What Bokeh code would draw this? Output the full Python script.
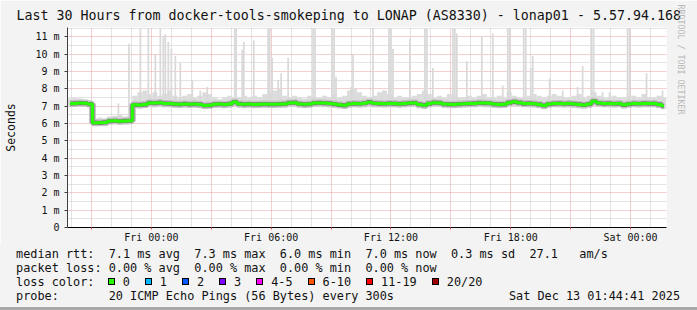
import numpy as np
from bokeh.plotting import figure
from bokeh.layouts import column
from bokeh.models import FixedTicker, Range1d, Title, Div
from bokeh.embed import file_html
from bokeh.resources import INLINE

# ---------------- data ----------------
TITLE = "Last 30 Hours from docker-tools-smokeping to LONAP (AS8330) - lonap01 - 5.57.94.168"
Y_LABEL = "Seconds"
# time axis: hours since Thu 19:48 (graph covers 30 h)
tick_hours = [1.2, 4.2, 7.2, 10.2, 13.2, 16.2, 19.2, 22.2, 25.2, 28.2]
tick_text = ["", "Fri 00:00", "", "Fri 06:00", "", "Fri 12:00", "", "Fri 18:00", "", "Sat 00:00"]
minor_hours = [0.2, 2.2, 3.2, 5.2, 6.2, 8.2, 9.2, 11.2, 12.2, 14.2, 15.2, 17.2, 18.2,
               20.2, 21.2, 23.2, 24.2, 26.2, 27.2, 29.2]
y_ticks = [0, 1, 2, 3, 4, 5, 6, 7, 8, 9, 10, 11]
y_text = ["0", "1 m", "2 m", "3 m", "4 m", "5 m", "6 m", "7 m", "8 m", "9 m", "10 m", "11 m"]

# median rtt (ms), 15-minute bins
median_ms = [
    7.15, 7.16, 7.18, 7.17, 7.12, 6.05, 6.04, 6.06, 6.14, 6.16,
    6.13, 6.15, 6.16, 7.08, 7.07, 7.09, 7.19, 7.18, 7.20, 7.16,
    7.15, 7.12, 7.11, 7.13, 7.11, 7.12, 7.10, 7.04, 7.05, 7.11,
    7.12, 7.10, 7.13, 7.24, 7.13, 7.11, 7.12, 7.10, 7.11, 7.12,
    7.11, 7.11, 7.12, 7.13, 7.19, 7.20, 7.13, 7.11, 7.12, 7.18,
    7.19, 7.18, 7.16, 7.12, 7.08, 7.05, 7.13, 7.15, 7.14, 7.17,
    7.23, 7.17, 7.15, 7.14, 7.16, 7.15, 7.13, 7.15, 7.18, 7.19,
    7.10, 7.06, 7.15, 7.20, 7.19, 7.12, 7.11, 7.10, 7.12, 7.14,
    7.15, 7.16, 7.19, 7.18, 7.17, 7.12, 7.10, 7.11, 7.20, 7.25,
    7.20, 7.15, 7.16, 7.14, 7.10, 7.04, 7.12, 7.15, 7.16, 7.14,
    7.15, 7.13, 7.10, 7.07, 7.12, 7.28, 7.18, 7.15, 7.16, 7.14,
    7.15, 7.08, 7.12, 7.15, 7.14, 7.16, 7.15, 7.15, 7.10, 7.02]

# smoke body (lowest / highest of the bulk of the pings), 15-minute bins
smoke_lo = [
    6.95, 6.95, 6.96, 6.95, 6.93, 5.92, 5.91, 5.93, 5.95, 5.96,
    5.94, 5.95, 5.96, 6.88, 6.87, 6.90, 6.95, 6.93, 6.95, 6.92,
    6.92, 6.90, 6.89, 6.91, 6.90, 6.90, 6.88, 6.84, 6.85, 6.90,
    6.90, 6.88, 6.90, 6.98, 6.90, 6.88, 6.90, 6.88, 6.89, 6.90,
    6.89, 6.89, 6.90, 6.90, 6.96, 6.96, 6.90, 6.88, 6.90, 6.95,
    6.95, 6.94, 6.92, 6.90, 6.86, 6.84, 6.90, 6.92, 6.91, 6.93,
    6.98, 6.93, 6.92, 6.91, 6.93, 6.92, 6.90, 6.92, 6.94, 6.95,
    6.88, 6.84, 6.92, 6.96, 6.95, 6.90, 6.88, 6.88, 6.90, 6.91,
    6.92, 6.93, 6.95, 6.94, 6.93, 6.90, 6.88, 6.89, 6.96, 7.00,
    6.96, 6.92, 6.93, 6.91, 6.88, 6.83, 6.90, 6.92, 6.93, 6.91,
    6.92, 6.90, 6.87, 6.85, 6.90, 7.02, 6.95, 6.92, 6.93, 6.91,
    6.92, 6.86, 6.90, 6.92, 6.91, 6.93, 6.92, 6.92, 6.88, 6.82]
smoke_hi = [
    7.45, 7.50, 7.45, 7.40, 7.35, 6.30, 6.35, 6.30, 6.40, 6.45,
    6.50, 6.40, 6.50, 7.60, 7.80, 7.90, 7.70, 7.80, 7.60, 7.70,
    7.90, 7.60, 7.50, 7.60, 7.70, 7.50, 7.60, 7.80, 7.70, 7.50,
    7.40, 7.50, 7.60, 7.50, 7.50, 7.60, 7.50, 7.60, 7.50, 7.70,
    7.80, 7.90, 8.00, 7.60, 7.50, 7.60, 7.50, 7.45, 7.60, 7.50,
    7.50, 7.60, 7.50, 7.70, 7.50, 7.60, 7.90, 8.00, 7.80, 7.60,
    7.50, 7.60, 7.80, 7.90, 7.70, 7.50, 7.60, 7.50, 7.50, 7.60,
    7.70, 7.90, 7.70, 7.50, 7.60, 7.50, 7.70, 7.60, 7.50, 7.50,
    7.60, 7.50, 7.60, 7.70, 7.50, 7.50, 7.60, 7.50, 7.80, 7.60,
    7.50, 7.50, 7.60, 7.70, 7.60, 7.50, 7.60, 7.70, 7.60, 7.50,
    7.50, 7.60, 7.70, 7.50, 7.60, 7.80, 7.60, 7.50, 7.50, 7.60,
    7.50, 7.50, 7.60, 7.60, 7.50, 7.70, 7.50, 7.50, 7.60, 7.50]

# slowest ping of single 5-minute rounds that stick out of the smoke
spike_hours = [2.55, 3.08, 3.65, 4.05, 4.40, 4.65, 4.80, 4.90, 5.05, 5.20, 5.40, 5.65,
               6.25, 6.65, 7.00, 8.38, 8.45, 8.75, 8.83, 9.33, 10.05, 10.13, 10.25,
               10.55, 10.70, 11.05, 12.30, 12.40, 13.25, 13.35, 13.45, 14.20, 14.30,
               15.30, 16.10, 16.20, 16.30, 17.15, 17.90, 18.00, 18.30, 19.30, 19.40,
               19.50, 20.00, 20.75, 21.30, 21.80, 22.05, 22.15, 22.85, 22.95, 23.20,
               23.30, 24.15, 24.80, 25.55, 25.80, 26.25, 26.35, 26.80, 27.15, 28.05,
               28.15, 29.00, 29.80]
spike_ms = [7.15, 10.6, 11.5, 11.5, 10.0, 11.5, 11.0, 11.15, 10.7, 10.3, 9.9, 9.5,
            8.5, 7.9, 8.1, 11.5, 11.5, 10.25, 10.7, 10.8, 11.5, 11.5, 9.8,
            8.5, 8.9, 9.8, 11.5, 11.5, 11.5, 11.5, 8.7, 8.1, 10.0,
            11.5, 11.5, 11.5, 10.3, 10.9, 11.5, 11.5, 9.2, 11.5, 11.5,
            11.2, 9.6, 11.05, 11.2, 8.2, 11.5, 11.5, 11.5, 11.5, 9.2,
            9.9, 8.6, 7.9, 8.1, 9.3, 11.5, 11.5, 7.8, 7.8, 11.5,
            11.5, 8.9, 7.9]

rtt_row = "median rtt:  7.1 ms avg  7.3 ms max  6.0 ms min  7.0 ms now  0.3 ms sd  27.1   am/s"
loss_row = "packet loss: 0.00 % avg  0.00 % max  0.00 % min  0.00 % now"
color_name = "loss color:"
loss_labels = ["0", "1", "2", "3", "4-5", "6-10", "11-19", "20/20"]
loss_colors = ["#26ff00", "#00b8ff", "#0059ff", "#7e00ff", "#ff00ff", "#ff5500", "#ff0000", "#a10000"]
probe_row = "probe:       20 ICMP Echo Pings (56 Bytes) every 300s"
stamp_text = "Sat Dec 13 01:44:41 2025"

# ---------------- layout constants ----------------
W = 697
H1, H2 = 245, 65                  # graph part / legend part
FL, FT, FB, FR = 67, 27, 16, 30
MONO = "DejaVu Sans Mono"
FS = 11.85
CW = 7.13                         # monospace character advance at FS
X0 = 16                           # legend left margin
BIN = 0.25                        # hours per median bin
STEP = 5 / 60                     # hours per ping round

t_bins = np.arange(len(median_ms)) * BIN + BIN / 2

# ================= graph =================
p = figure(width=W, height=H1, output_backend="svg", toolbar_location=None, title=None,
           x_range=Range1d(0, 30), y_range=Range1d(0, 11.54),
           min_border_left=FL, min_border_right=FR, min_border_top=FT, min_border_bottom=FB)
p.background_fill_color = "#ffffff"
p.border_fill_color = "#f3f3f3"
p.outline_line_color = None

p.xaxis.ticker = FixedTicker(ticks=tick_hours, minor_ticks=minor_hours)
p.yaxis.ticker = FixedTicker(ticks=y_ticks, minor_ticks=list(np.arange(0.5, 11.6, 1.0)))
for g in (p.xgrid, p.ygrid):
    g.grid_line_color = "#eaa0a0"
    g.grid_line_dash = "1 1"
    g.minor_grid_line_color = "#c8c8c8"
    g.minor_grid_line_dash = "1 1"

p.xaxis.major_label_overrides = {h: t for h, t in zip(tick_hours, tick_text)}
p.yaxis.major_label_overrides = {v: t for v, t in zip(y_ticks, y_text)}
for ax in (p.xaxis, p.yaxis):
    ax.major_label_text_font = MONO
    ax.major_label_text_font_size = "10px"
    ax.major_label_text_color = "#111111"
    ax.minor_tick_line_color = None
    ax.major_tick_in = 0
p.xaxis.axis_line_color = "#000000"
p.xaxis.major_tick_out = 2
p.xaxis.major_tick_line_color = "#e06060"
p.xaxis.major_label_standoff = 0
p.yaxis.axis_line_color = "#404040"
p.yaxis.major_tick_out = 3
p.yaxis.major_tick_line_color = "#404040"
p.yaxis.major_label_standoff = 4
p.yaxis.axis_label = Y_LABEL
p.yaxis.axis_label_text_font = MONO
p.yaxis.axis_label_text_font_size = "11.5px"
p.yaxis.axis_label_text_font_style = "normal"
p.yaxis.axis_label_text_color = "#111111"
p.yaxis.axis_label_standoff = 14

# smoke body
p.vbar(x=t_bins, width=BIN, bottom=smoke_lo, top=smoke_hi, fill_color="#dcdcdc",
       line_color=None)
# spikes
spike_base = np.interp(spike_hours, t_bins, median_ms)
p.vbar(x=spike_hours, width=STEP * 1.05, bottom=spike_base, top=spike_ms,
       fill_color="#d9d9d9", line_color=None)
# denser smoke close to the median, then the median itself
p.step(x=t_bins, y=median_ms, mode="center", line_color="#c4c4c4", line_width=7)
p.step(x=t_bins, y=median_ms, mode="center", line_color="#7a7a7a", line_width=4.2)
p.step(x=t_bins, y=median_ms, mode="center", line_color="#26ff00", line_width=3)


def side_title(text, side, align, offset, size, color, standoff):
    p.add_layout(Title(text=text, align=align, offset=offset, text_font=MONO,
                       text_font_size=size, text_font_style="normal", text_color=color,
                       standoff=standoff), side)


side_title(TITLE, "above", "left", X0 - FL, "13.3px", "#111111", 10)
side_title("RRDTOOL / TOBI OETIKER", "right", "left", -23, "8.3px", "#b8b8b8", 19)

# ================= legend block (below the graph) =================
ROW = [9, 23, 37, 51]             # row centres inside the legend block
LH = 14


def span(text, left, row, extra=""):
    return ('<span style="position:absolute;left:%.1fpx;top:%.1fpx;line-height:%dpx;'
            'white-space:pre;%s">%s</span>' % (left, row - LH / 2, LH, extra, text))


parts = [span(rtt_row, X0, ROW[0]), span(loss_row, X0, ROW[1]), span(color_name, X0, ROW[2])]
bx = X0 + 13 * CW - 1
for lbl, col in zip(loss_labels, loss_colors):
    parts.append('<span style="position:absolute;left:%.1fpx;top:%.1fpx;width:7px;height:7px;'
                 'border:1px solid #000;background:%s"></span>' % (bx, ROW[2] - 4.5, col))
    parts.append(span(lbl, bx + 15, ROW[2]))
    bx += 30 + CW * len(lbl)
parts.append(span(probe_row, X0, ROW[3]))
parts.append(span(stamp_text, W - 17 - CW * len(stamp_text), ROW[3]))
parts.append('<div style="position:absolute;left:0;bottom:0;width:%dpx;height:3px;'
             'background:#a8a8a8"></div>' % W)

html = ('<div style="position:relative;width:%dpx;height:%dpx;background:#f3f3f3;'
        'font-family:\'%s\';font-size:%.2fpx;color:#111111;overflow:hidden;margin:0">%s</div>'
        % (W, H2, MONO, FS, "".join(parts)))
legend_block = Div(text=html, width=W, height=H2, margin=0)

open("out.html", "w").write(file_html(column(p, legend_block, spacing=0), INLINE))
